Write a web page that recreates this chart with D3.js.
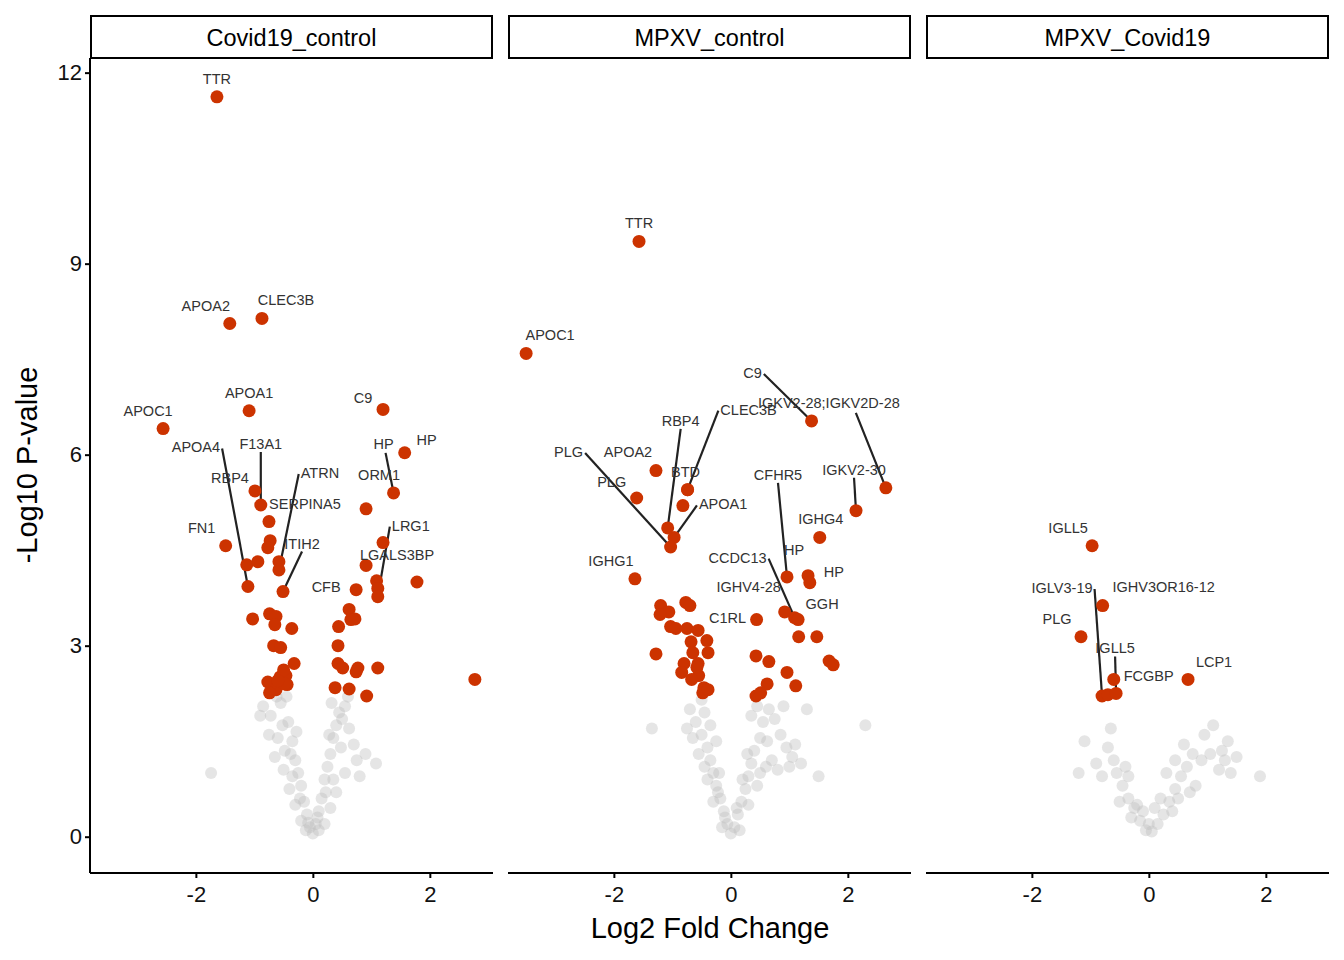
<!DOCTYPE html>
<html><head><meta charset="utf-8">
<script src="https://cdn.jsdelivr.net/npm/d3@7"></script>
<style>body{margin:0;background:#fff}text{font-family:"Liberation Sans",Arial,sans-serif}</style>
</head><body><svg id="c" width="1344" height="960"></svg>
<script>
var panels = ['Covid19_control', 'MPXV_control', 'MPXV_Covid19']
var xTicks = [-2, 0, 2]
var yTicks = [0, 3, 6, 9, 12]

// significant proteins: [x, y, label]
var sig1 = [[-1.64,11.62,'TTR'],[-1.42,8.06,'APOA2'],[-0.87,8.14,'CLEC3B'],[-1.09,6.69,'APOA1'],[-2.56,6.41,'APOC1'],
  [1.20,6.71,'C9'],[1.57,6.03,'HP'],[1.38,5.40,'HP'],[-0.99,5.43,'RBP4'],[-0.89,5.21,'F13A1'],[0.91,5.15,'ORM1'],
  [-0.75,4.95,'SERPINA5'],[-1.49,4.57,'FN1'],[-0.73,4.65,''],[-0.77,4.54,''],[-1.11,3.93,'APOA4'],[-1.13,4.27,''],
  [-0.94,4.32,''],[-0.58,4.32,''],[-0.58,4.19,'ATRN'],[-0.51,3.85,'ITIH2'],[1.20,4.62,''],[0.91,4.26,'LGALS3BP'],
  [1.09,4.02,''],[1.11,3.90,''],[1.11,3.77,'LRG1'],[1.78,4.0,''],[0.74,3.88,'CFB'],[2.77,2.47,''],
  [-1.03,3.42,''],[-0.74,3.50,''],[-0.63,3.46,''],[-0.65,3.33,''],[-0.36,3.27,''],[0.44,3.30,''],[0.62,3.57,''],
  [0.65,3.41,''],[0.72,3.42,''],[0.43,3.0,''],[-0.67,3.0,''],[-0.55,2.97,''],[-0.32,2.72,''],[-0.77,2.43,''],
  [-0.56,2.51,''],[-0.46,2.53,''],[-0.44,2.39,''],[-0.63,2.31,''],[-0.74,2.26,''],[0.43,2.72,''],[0.51,2.65,''],
  [0.77,2.65,''],[1.11,2.65,''],[0.38,2.34,''],[0.62,2.32,''],[0.92,2.21,''],[0.74,2.59,''],[-0.48,2.40,''],
  [-0.50,2.62,''],[-0.60,2.45,'']]
var sig2 = [[-1.57,9.35,'TTR'],[-3.50,7.59,'APOC1'],[1.38,6.53,'C9'],[2.65,5.48,'IGKV2-28;IGKV2D-28'],[2.14,5.12,'IGKV2-30'],
  [-1.28,5.75,'APOA2'],[-1.61,5.32,'PLG'],[-0.74,5.45,'CLEC3B'],[-0.82,5.20,''],[-1.08,4.85,'RBP4'],[-0.97,4.70,'APOA1'],
  [-1.03,4.55,'PLG'],[1.52,4.70,'IGHG4'],[-1.64,4.05,'IGHG1'],[0.96,4.08,'CFHR5'],[1.32,4.10,'HP'],[1.35,3.99,'HP'],
  [0.92,3.53,'IGHV4-28'],[1.09,3.44,'CCDC13'],[1.15,3.41,'GGH'],[0.44,3.41,'C1RL'],[1.16,3.14,''],[1.47,3.14,''],
  [0.43,2.84,''],[0.65,2.75,''],[1.68,2.76,''],[1.75,2.70,''],[0.96,2.58,''],[0.62,2.40,''],[1.11,2.37,''],
  [0.43,2.21,''],[0.51,2.26,''],[-1.20,3.63,''],[-1.06,3.53,''],[-0.77,3.68,''],[-0.70,3.63,''],[-1.21,3.49,''],
  [-1.03,3.30,''],[-0.94,3.27,''],[-0.75,3.27,''],[-0.56,3.24,''],[-0.68,3.06,''],[-0.41,3.08,''],[-1.28,2.87,''],
  [-0.65,2.89,''],[-0.39,2.89,''],[-0.80,2.72,''],[-0.56,2.72,''],[-0.84,2.58,''],[-0.55,2.53,''],[-0.67,2.47,''],
  [-0.46,2.34,''],[-0.48,2.26,''],[-0.39,2.31,''],[-0.58,2.66,''],[-0.74,5.45,'BTD']]
var sig3 = [[-0.97,4.57,'IGLL5'],[-0.79,3.63,'IGHV3OR16-12'],[-1.16,3.14,'PLG'],[-0.60,2.47,'FCGBP'],[0.67,2.47,'LCP1'],
  [-0.80,2.21,'IGLV3-19'],[-0.70,2.23,''],[-0.56,2.25,'IGLL5']]

// non-significant proteins: [x, y]
var ns1 = [[-1.74,1.0],[1.08,1.15],[-0.85,2.05],[-0.72,1.9],[-0.55,2.1],[-0.42,1.8],[-0.6,1.55],[-0.48,1.35],[-0.35,1.5],
  [-0.3,1.2],[-0.25,1.0],[-0.2,0.8],[-0.15,0.55],[-0.1,0.35],[-0.05,0.15],[0.0,0.05],[0.05,0.2],[0.1,0.4],[0.15,0.6],
  [0.2,0.9],[0.25,1.1],[0.3,1.3],[0.35,1.55],[0.4,1.75],[0.45,1.95],[0.55,2.05],[0.62,1.7],[0.7,1.45],[0.75,1.2],
  [0.55,1.0],[0.4,0.7],[0.3,0.45],[-0.3,0.5],[-0.4,0.75],[-0.5,1.05],[-0.65,1.25],[-0.75,1.6],[-0.9,1.9],[0.8,0.95],
  [0.9,1.3],[-0.2,0.25],[0.2,0.2],[-0.12,0.1],[0.1,0.1],[0.35,0.9],[-0.35,0.95],[0.6,2.2],[-0.45,2.2],[0.48,1.4],[-0.28,1.65],
  [-0.22,0.6],[0.22,0.7],[-0.08,0.22],[0.08,0.3],[-0.38,1.3],[0.28,1.6],[-0.52,1.75],[0.5,1.85],[-0.62,2.2],[0.32,2.1]]
var ns2 = [[-1.35,1.7],[2.3,1.75],[1.5,0.95],[-0.7,2.0],[-0.6,1.8],[-0.45,1.95],[-0.5,1.6],[-0.4,1.4],[-0.35,1.2],[-0.3,1.0],
  [-0.25,0.8],[-0.18,0.6],[-0.12,0.4],[-0.06,0.2],[0.0,0.05],[0.06,0.15],[0.12,0.35],[0.18,0.55],[0.25,0.75],[0.3,0.95],
  [0.35,1.15],[0.4,1.35],[0.5,1.55],[0.55,1.8],[0.65,2.0],[0.75,1.85],[0.85,1.6],[0.95,1.4],[1.05,1.25],[1.2,1.15],
  [0.6,1.1],[0.45,0.8],[-0.55,1.3],[-0.65,1.55],[-0.75,1.7],[-0.3,0.55],[0.3,0.5],[-0.15,0.15],[0.15,0.1],[1.3,2.0],
  [0.9,2.05],[0.45,2.05],[-0.2,1.0],[0.2,0.9],[-0.4,0.9],[1.0,1.1],[0.7,1.2],[-0.5,2.15],[0.35,1.9],[-0.25,1.5],
  [-0.1,0.3],[0.1,0.45],[-0.22,0.7],[0.28,1.3],[-0.45,1.1],[0.5,1.0],[-0.35,1.75],[0.62,1.5],[0.8,1.05],[1.1,1.45]]
var ns3 = [[-1.1,1.5],[-1.2,1.0],[1.9,0.95],[1.35,1.5],[-0.7,1.4],[-0.6,1.2],[-0.55,1.0],[-0.45,0.8],[-0.35,0.6],[-0.25,0.45],
  [-0.15,0.25],[-0.05,0.1],[0.05,0.08],[0.15,0.2],[0.25,0.35],[0.35,0.55],[0.45,0.75],[0.55,0.95],[0.65,1.1],[0.75,1.3],
  [0.9,1.2],[1.05,1.3],[1.2,1.05],[1.3,1.2],[1.4,1.0],[0.3,1.0],[0.45,1.2],[-0.4,1.1],[-0.8,0.95],[-0.3,0.3],[0.1,0.45],
  [0.95,1.6],[1.1,1.75],[0.6,1.45],[-0.65,1.7],[1.25,1.35],[0.8,0.8],[-0.5,0.55],[0.2,0.6],[1.5,1.25],
  [-0.2,0.5],[0.0,0.2],[0.4,0.4],[-0.35,0.95],[0.7,0.7],[-0.9,1.15],[0.5,0.6],[-0.1,0.4]]

// label placement: [panel, label, dx, dy, segment] ; segment: 0 none, 1 auto, [ax, ay] anchor offset
var labelPos = [
  [0,'TTR',0,-18,0],[0,'APOA2',-24,-18,0],[0,'CLEC3B',24,-18,0],[0,'APOA1',0,-18,0],[0,'APOC1',-15,-18,0],
  [0,'C9',-20,-11,0],[0,'HP',22,-13,0],[0,'HP',-10,-49,[2,9]],[0,'ORM1',13,-34,0],[0,'RBP4',-25,-13,0],[0,'F13A1',0,-61,1],
  [0,'SERPINA5',36,-18,0],[0,'FN1',-24,-18,0],[0,'APOA4',-52,-139,1],[0,'ATRN',41,-97,1],[0,'ITIH2',19,-48,1],
  [0,'LGALS3BP',31,-10,0],[0,'LRG1',33,-71,1],[0,'CFB',-30,-3,0],
  [1,'TTR',0,-18,0],[1,'APOC1',24,-18,0],[1,'C9',-59,-48,1],[1,'IGKV2-28;IGKV2D-28',-57,-85,[27,10]],[1,'IGKV2-30',-2,-41,1],
  [1,'APOA2',-28,-19,0],[1,'PLG',-25,-16,0],[1,'PLG',-102,-95,1],[1,'CLEC3B',61,-80,1],[1,'RBP4',13,-107,1],[1,'APOA1',49,-33,1],
  [1,'IGHG4',1,-18,0],[1,'IGHG1',-24,-18,0],[1,'CFHR5',-9,-102,1],[1,'HP',-14,-26,0],[1,'HP',24,-11,0],
  [1,'CCDC13',-57,-60,1],[1,'IGHV4-28',-36,-25,0],[1,'GGH',24,-16,0],[1,'C1RL',-29,-2,0],[1,'BTD',-2,-18,0],
  [2,'IGLL5',-24,-18,0],[2,'IGHV3OR16-12',61,-19,0],[2,'PLG',-24,-18,0],[2,'FCGBP',35,-3,0],[2,'LCP1',26,-17,0],
  [2,'IGLV3-19',-40,-108,1],[2,'IGLL5',-1,-45,1]
]
var sigs = [sig1, sig2, sig3]
var nss = [ns1, ns2, ns3]

var svg = d3.select('#c')
var left = [90, 508, 926], pw = 403, plotTop = 58, plotBottom = 873
var y = d3.scaleLinear().domain([-0.57, 12.23]).range([plotBottom, plotTop])

panels.forEach(function (name, i) {
  var x = d3.scaleLinear().domain([-3.81, 3.08]).range([left[i], left[i] + pw])
  var g = svg.append('g')
  g.append('rect').attr('x', left[i] + 1).attr('y', 16).attr('width', pw - 2).attr('height', 42)
    .attr('fill', '#fff').attr('stroke', '#000').attr('stroke-width', 2)
  g.append('text').attr('x', left[i] + pw / 2).attr('y', 46).attr('text-anchor', 'middle')
    .attr('font-size', 23.5).text(name)

  g.selectAll('.ns').data(nss[i]).enter().append('circle')
    .attr('cx', d => x(d[0])).attr('cy', d => y(d[1])).attr('r', 6)
    .attr('fill', '#bebebe').attr('fill-opacity', 0.4)
  g.selectAll('.sig').data(sigs[i]).enter().append('circle')
    .attr('cx', d => x(d[0])).attr('cy', d => y(d[1])).attr('r', 6.5)
    .attr('fill', '#cc3300')

  var used = {}
  labelPos.filter(l => l[0] === i).forEach(function (l) {
    var k = used[l[1]] || 0
    var pts = sigs[i].filter(d => d[2] === l[1])
    var p = pts[k] || pts[0]
    used[l[1]] = k + 1
    if (!p) return
    var px = x(p[0]), py = y(p[1]), lx = px + l[2], ly = py + l[3]
    var t = g.append('text').attr('x', lx).attr('y', ly + 5).attr('text-anchor', 'middle')
      .attr('font-size', 14.5).attr('fill', '#333').text(l[1])
    if (l[4]) {
      var w = t.node().getComputedTextLength() / 2
      var sx = lx, sy = ly + 8
      if (Array.isArray(l[4])) { sx = lx + l[4][0]; sy = ly + l[4][1] }
      else if (Math.abs(l[2]) > 25) { sx = l[2] < 0 ? lx + w + 2 : lx - w - 2; sy = ly + 1 }
      g.insert('line', 'text').attr('x1', sx).attr('y1', sy).attr('x2', px).attr('y2', py)
        .attr('stroke', '#222').attr('stroke-width', 2.2)
    }
  })

  var xa = g.append('g').attr('transform', 'translate(0,' + plotBottom + ')')
    .call(d3.axisBottom(x).tickValues(xTicks).tickSize(5).tickFormat(d3.format('d')))
  xa.select('.domain').attr('stroke-width', 2).attr('d', 'M' + left[i] + ',0H' + (left[i] + pw))
  xa.selectAll('line').attr('stroke-width', 2)
  xa.selectAll('text').attr('font-size', 22).attr('fill', '#111').attr('dy', '0.95em')
    .text(d => d < 0 ? '-' + Math.abs(d) : d)
})

var ya = svg.append('g').attr('transform', 'translate(' + left[0] + ',0)')
  .call(d3.axisLeft(y).tickValues(yTicks).tickSize(5))
ya.select('.domain').attr('stroke-width', 2).attr('d', 'M0,' + plotTop + 'V' + plotBottom)
ya.selectAll('line').attr('stroke-width', 2)
ya.selectAll('text').attr('font-size', 22).attr('fill', '#111')

svg.append('text').attr('transform', 'translate(37,465) rotate(-90)').attr('text-anchor', 'middle')
  .attr('font-size', 29).text('-Log10 P-value')
svg.append('text').attr('x', 710).attr('y', 938).attr('text-anchor', 'middle')
  .attr('font-size', 29).text('Log2 Fold Change')
</script></body></html>
